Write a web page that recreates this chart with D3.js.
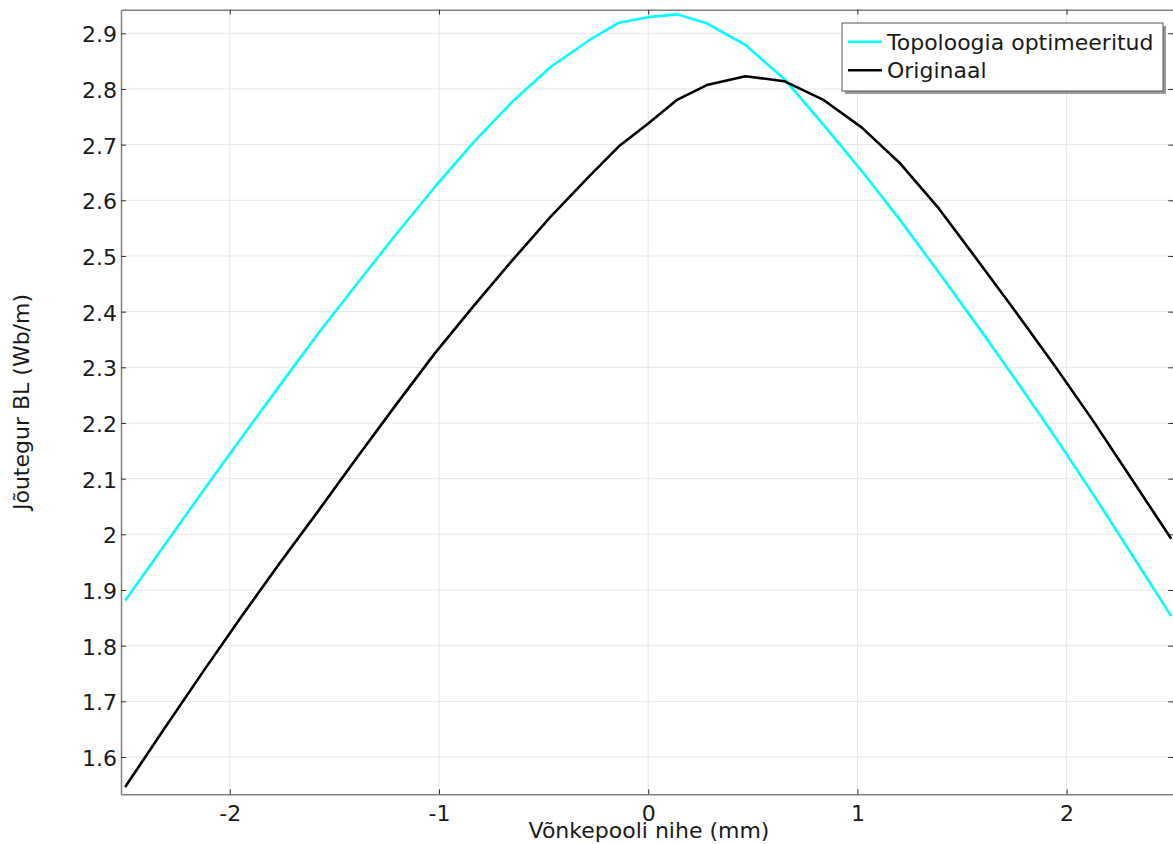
<!DOCTYPE html>
<html lang="et">
<head>
<meta charset="UTF-8">
<title>Jõutegur BL</title>
<script src="https://d3js.org/d3.v7.min.js"></script>
<style>
  body { margin: 0; background: #fff; }
  svg { display: block; font-family: "DejaVu Sans", sans-serif; }
</style>
</head>
<body>
<script>
// andmed (loetud graafikult)
var nihe = [-2.5, -2.315, -2.13, -1.945, -1.76, -1.575, -1.39, -1.205, -1.02, -0.835, -0.65, -0.465, -0.28, -0.14, 0,
            0.14, 0.28, 0.465, 0.65, 0.835, 1.02, 1.205, 1.39, 1.575, 1.76, 1.945, 2.13, 2.315, 2.5];
var topoloogia = [1.881, 1.979, 2.077, 2.173, 2.268, 2.362, 2.451, 2.539, 2.624, 2.704, 2.777, 2.840, 2.888, 2.919, 2.929,
                  2.934, 2.918, 2.879, 2.818, 2.737, 2.653, 2.564, 2.470, 2.374, 2.276, 2.175, 2.070, 1.962, 1.853];
var originaal = [1.546, 1.650, 1.752, 1.852, 1.949, 2.043, 2.139, 2.233, 2.325, 2.410, 2.492, 2.571, 2.644, 2.697, 2.738,
                 2.781, 2.807, 2.823, 2.814, 2.781, 2.731, 2.666, 2.585, 2.492, 2.398, 2.302, 2.202, 2.097, 1.992];
var xTicks = [-2, -1, 0, 1, 2];
var yTicks = [1.6, 1.7, 1.8, 1.9, 2, 2.1, 2.2, 2.3, 2.4, 2.5, 2.6, 2.7, 2.8, 2.9];
var seeriad = [
  {nimi: "Topoloogia optimeeritud", y: topoloogia, varv: "#00ffff"},
  {nimi: "Originaal", y: originaal, varv: "#000000"}
];

var width = 1173, height = 844;
var pLeft = 121, pTop = 9.7, pRight = 1173.3, pBottom = 794.3;
var fs = "22px";

var svg = d3.select("body").append("svg").attr("width", width).attr("height", height);
svg.append("rect").attr("width", width).attr("height", height).attr("fill", "#fff");

var x = d3.scaleLinear().domain([-2.52, 2.51]).range([pLeft, pRight]);
var y = d3.scaleLinear().domain([1.533, 2.9424]).range([pBottom, pTop]);

// ruudustik
var grid = svg.append("g");
grid.selectAll(".gx").data(xTicks).enter().append("line")
  .attr("x1", d => x(d)).attr("x2", d => x(d)).attr("y1", pTop).attr("y2", pBottom)
  .attr("stroke", "#e6e6e6").attr("stroke-width", 1);
grid.selectAll(".gy").data(yTicks).enter().append("line")
  .attr("x1", pLeft).attr("x2", pRight).attr("y1", d => y(d)).attr("y2", d => y(d))
  .attr("stroke", "#e6e6e6").attr("stroke-width", 1);

// teljed, jooned sissepoole
var fmt = function(d) { return String(d); };
var gx = svg.append("g").attr("transform", "translate(0," + pBottom + ")")
  .call(d3.axisBottom(x).tickValues(xTicks).tickFormat(fmt).tickSizeInner(-5).tickSizeOuter(0).tickPadding(11));
var gy = svg.append("g").attr("transform", "translate(" + pLeft + ",0)")
  .call(d3.axisLeft(y).tickValues(yTicks).tickFormat(fmt).tickSizeInner(-5).tickSizeOuter(0).tickPadding(4));
var gt = svg.append("g").attr("transform", "translate(0," + pTop + ")")
  .call(d3.axisTop(x).tickValues(xTicks).tickFormat("").tickSizeInner(-5).tickSizeOuter(0));
var gr = svg.append("g").attr("transform", "translate(" + pRight + ",0)")
  .call(d3.axisRight(y).tickValues(yTicks).tickFormat("").tickSizeInner(-5).tickSizeOuter(0));

[gx, gy, gt, gr].forEach(function(g) {
  g.select(".domain").attr("stroke", "#808080").attr("stroke-width", 1.5);
  g.selectAll(".tick line").attr("stroke", "#333").attr("stroke-width", 1);
  g.selectAll("text").attr("fill", "#1a1a1a").style("font-size", fs).style("font-family", "DejaVu Sans");
});
gy.selectAll("text").attr("dy", "0.38em");

// kõverad
var line = d3.line().x(function(d) { return x(d[0]); }).y(function(d) { return y(d[1]); });
seeriad.forEach(function(s) {
  svg.append("path")
    .datum(nihe.map(function(v, i) { return [v, s.y[i]]; }))
    .attr("d", line)
    .attr("fill", "none")
    .attr("stroke", s.varv)
    .attr("stroke-width", 2.6)
    .attr("stroke-linejoin", "round");
});

// telgede pealkirjad
svg.append("text").attr("x", 649).attr("y", 838).attr("text-anchor", "middle")
  .style("font-size", fs).attr("fill", "#1a1a1a").text("Võnkepooli nihe (mm)");
svg.append("text").attr("transform", "translate(29,402) rotate(-90)").attr("text-anchor", "middle")
  .style("font-size", fs).attr("fill", "#1a1a1a").text("Jõutegur BL (Wb/m)");

// legend
var lg = svg.append("g");
lg.append("rect").attr("x", 845).attr("y", 26).attr("width", 321).attr("height", 68).attr("fill", "#9a9a9a");
lg.append("rect").attr("x", 842).attr("y", 23).attr("width", 321).attr("height", 68)
  .attr("fill", "#fff").attr("stroke", "#555").attr("stroke-width", 1);
seeriad.forEach(function(s, i) {
  var cy = 41.7 + i * 28.5;
  lg.append("line").attr("x1", 848).attr("x2", 882).attr("y1", cy).attr("y2", cy)
    .attr("stroke", s.varv).attr("stroke-width", 2.6);
  lg.append("text").attr("x", 887).attr("y", cy).attr("dy", "0.36em")
    .style("font-size", fs).attr("fill", "#1a1a1a").text(s.nimi);
});
</script>
</body>
</html>
